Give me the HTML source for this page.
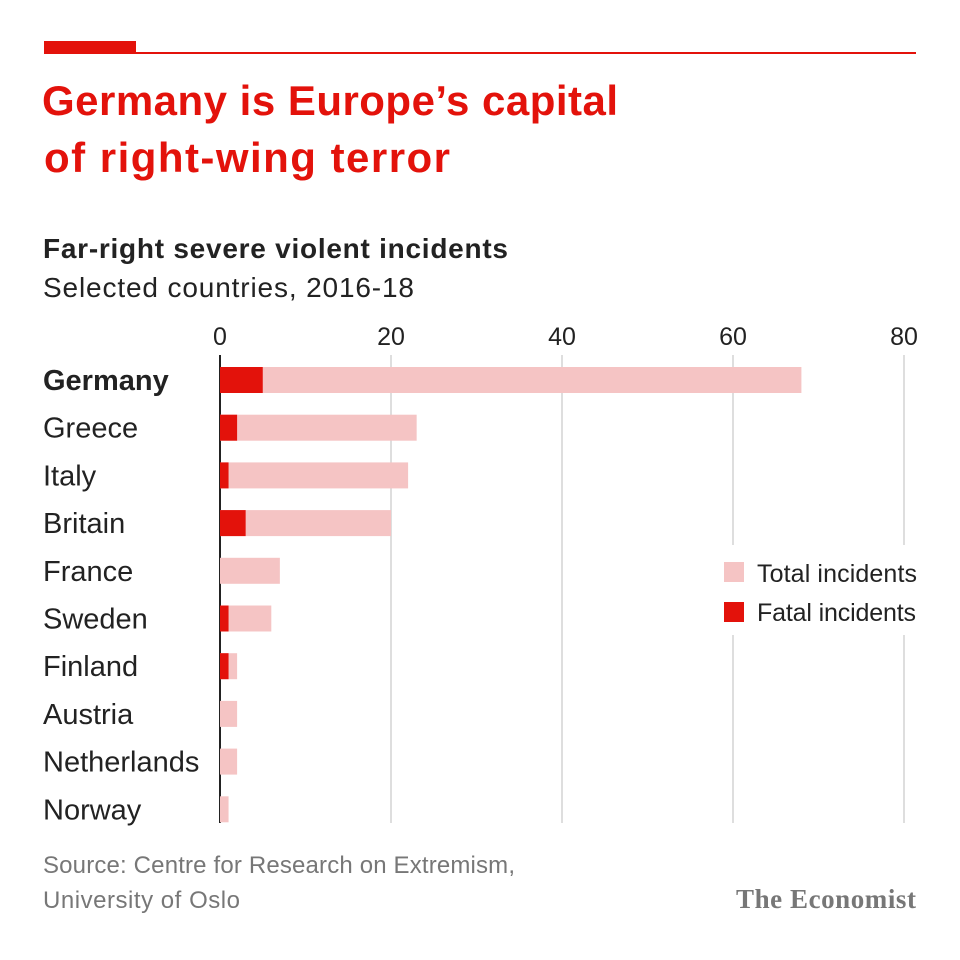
<!DOCTYPE html>
<html><head><meta charset="utf-8"><style>
body{margin:0;background:#fff;}
svg{display:block;font-family:"Liberation Sans",sans-serif;}
</style></head><body>
<svg id="c" width="960" height="960">
<rect x="44" y="41" width="92" height="12" fill="#e3120b"/>
<rect x="44" y="52" width="872" height="2" fill="#e3120b"/>
<text x="42" y="115" font-size="42" font-weight="bold" fill="#e3120b" textLength="576">Germany is Europe’s capital</text>
<text x="44" y="172" font-size="42" font-weight="bold" fill="#e3120b" textLength="406">of right-wing terror</text>
<text x="43" y="258" font-size="28" font-weight="bold" fill="#222" textLength="465">Far-right severe violent incidents</text>
<text x="43" y="297" font-size="28" fill="#222" textLength="371">Selected countries, 2016-18</text>
<g id="grid"></g>
<g id="bars"></g>
<g id="labels"></g>
<rect x="700" y="545" width="230" height="90" fill="#fff"/>
<rect x="724" y="562" width="20" height="20" fill="#f5c4c4"/>
<text x="757" y="582" font-size="25" fill="#222" textLength="160">Total incidents</text>
<rect x="724" y="602" width="20" height="20" fill="#e3120b"/>
<text x="757" y="621" font-size="25" fill="#222" textLength="159">Fatal incidents</text>
<text x="43" y="873" font-size="24" fill="#777" textLength="472">Source: Centre for Research on Extremism,</text>
<text x="43" y="908" font-size="24" fill="#777" textLength="197">University of Oslo</text>
<text x="916" y="908" font-size="27" font-weight="bold" text-anchor="end" fill="#777" textLength="180" font-family="Liberation Serif,serif">The Economist</text>
</svg>
<script>
const countries=["Germany","Greece","Italy","Britain","France","Sweden","Finland","Austria","Netherlands","Norway"];
const totals=[68,23,22,20,7,6,2,2,2,1];
const fatals=[5,2,1,3,0,1,1,0,0,0];
const ticks=[0,20,40,60,80];
const NS="http://www.w3.org/2000/svg";
const x=v=>220+v*8.55;
const y=i=>380+i*47.7;
function mk(t,a,p){const e=document.createElementNS(NS,t);for(const k in a)e.setAttribute(k,a[k]);p.appendChild(e);return e;}
const g=document.getElementById('grid'),b=document.getElementById('bars'),l=document.getElementById('labels');
ticks.forEach(t=>{
 const ln=mk('line',{x1:x(t),x2:x(t),y1:355,y2:823,stroke:t===0?'#222':'#ccc','stroke-width':t===0?2:1.3},g);
 
 
 const tx=mk('text',{x:x(t),y:345,'font-size':25,'text-anchor':'middle',fill:'#222'},g);
 tx.textContent=t;
 
 
});
countries.forEach((c,i)=>{
 const r=mk('rect',{x:x(0),y:y(i)-13,width:x(totals[i])-x(0),height:26,fill:'#f5c4c4'},b);
 
 
 if(fatals[i]>0){
 const f=mk('rect',{x:x(0),y:y(i)-13,width:x(fatals[i])-x(0),height:26,fill:'#e3120b'},b);
 
 
 }
 const t=mk('text',{x:43,y:y(i)+10,'font-size':29,fill:'#222','font-weight':i===0?'bold':'normal'},l);
 t.textContent=c;
 
 
});
</script>
</body></html>
